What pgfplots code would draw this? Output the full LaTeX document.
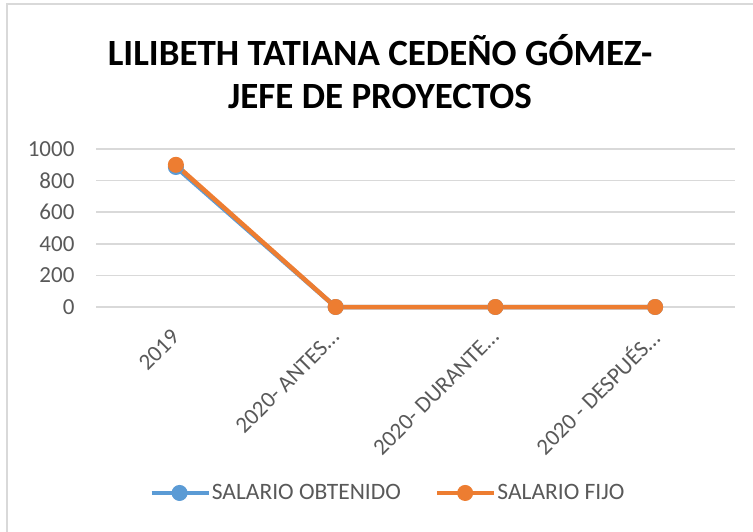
\documentclass[border=0pt]{standalone}
\usepackage{pgfplots}
\pgfplotsset{compat=1.18}
\usepackage{fontspec}
\setmainfont{Carlito}
\definecolor{txt}{HTML}{595959}
\definecolor{grd}{HTML}{D9D9D9}
\definecolor{sblue}{HTML}{5B9BD5}
\definecolor{sorange}{HTML}{ED7D31}
\begin{document}
\begin{tikzpicture}[x=1pt,y=1pt]
\useasboundingbox (0,0) rectangle (753,531);
\draw[grd, line width=1.5pt] (7,-5) -- (7,527) -- (760,527);
\node[font=\fontsize{37}{43}\selectfont\bfseries, align=center] at (380,459) {LILIBETH TATIANA CEDEÑO GÓMEZ-\\JEFE DE PROYECTOS};
\begin{axis}[
  at={(96pt,224pt)}, anchor=south west,
  scale only axis, width=639pt, height=158pt,
  xmin=-0.5, xmax=3.5, ymin=0, ymax=1000,
  ytick={0,200,...,1000},
  xtick={0,1,2,3},
  xticklabels={2019, 2020- ANTES…, 2020- DURANTE…, 2020 - DESPUÉS…},
  ymajorgrids, grid style={grd, line width=1.5pt},
  axis line style={draw=none},
  major tick length=0pt,
  tick label style={font=\fontsize{23}{27}\selectfont, text=txt},
  /pgf/number format/assume math mode=true,
  /pgf/number format/1000 sep={},
  yticklabel style={xshift=-18pt},
  xticklabel style={anchor=east, xshift=2pt, yshift=-24pt, rotate=45},
  clip=false,
  legend columns=2,
  legend style={draw=none, at={(0.456,-1.177)}, anchor=center,
    font=\fontsize{23.5}{27}\selectfont, text=txt,
    nodes={inner xsep=1pt},
    /tikz/every even column/.append style={column sep=33pt}},
  legend image code/.code={\draw[mark repeat=2,mark phase=2,#1] plot coordinates {(0pt,0pt) (28pt,0pt) (57pt,0pt)};},
]
\addplot[sblue, line width=4.5pt, line join=round, mark=*, mark size=7.5pt, mark options={solid, line width=1pt, fill=sblue}] coordinates {(0,886) (1,0) (2,0) (3,0)};
\addlegendentry{SALARIO OBTENIDO}
\addplot[sorange, line width=4.5pt, line join=round, mark=*, mark size=7.5pt, mark options={solid, line width=1pt, fill=sorange}] coordinates {(0,900) (1,0) (2,0) (3,0)};
\addlegendentry{SALARIO FIJO}
\end{axis}
\end{tikzpicture}
\end{document}
